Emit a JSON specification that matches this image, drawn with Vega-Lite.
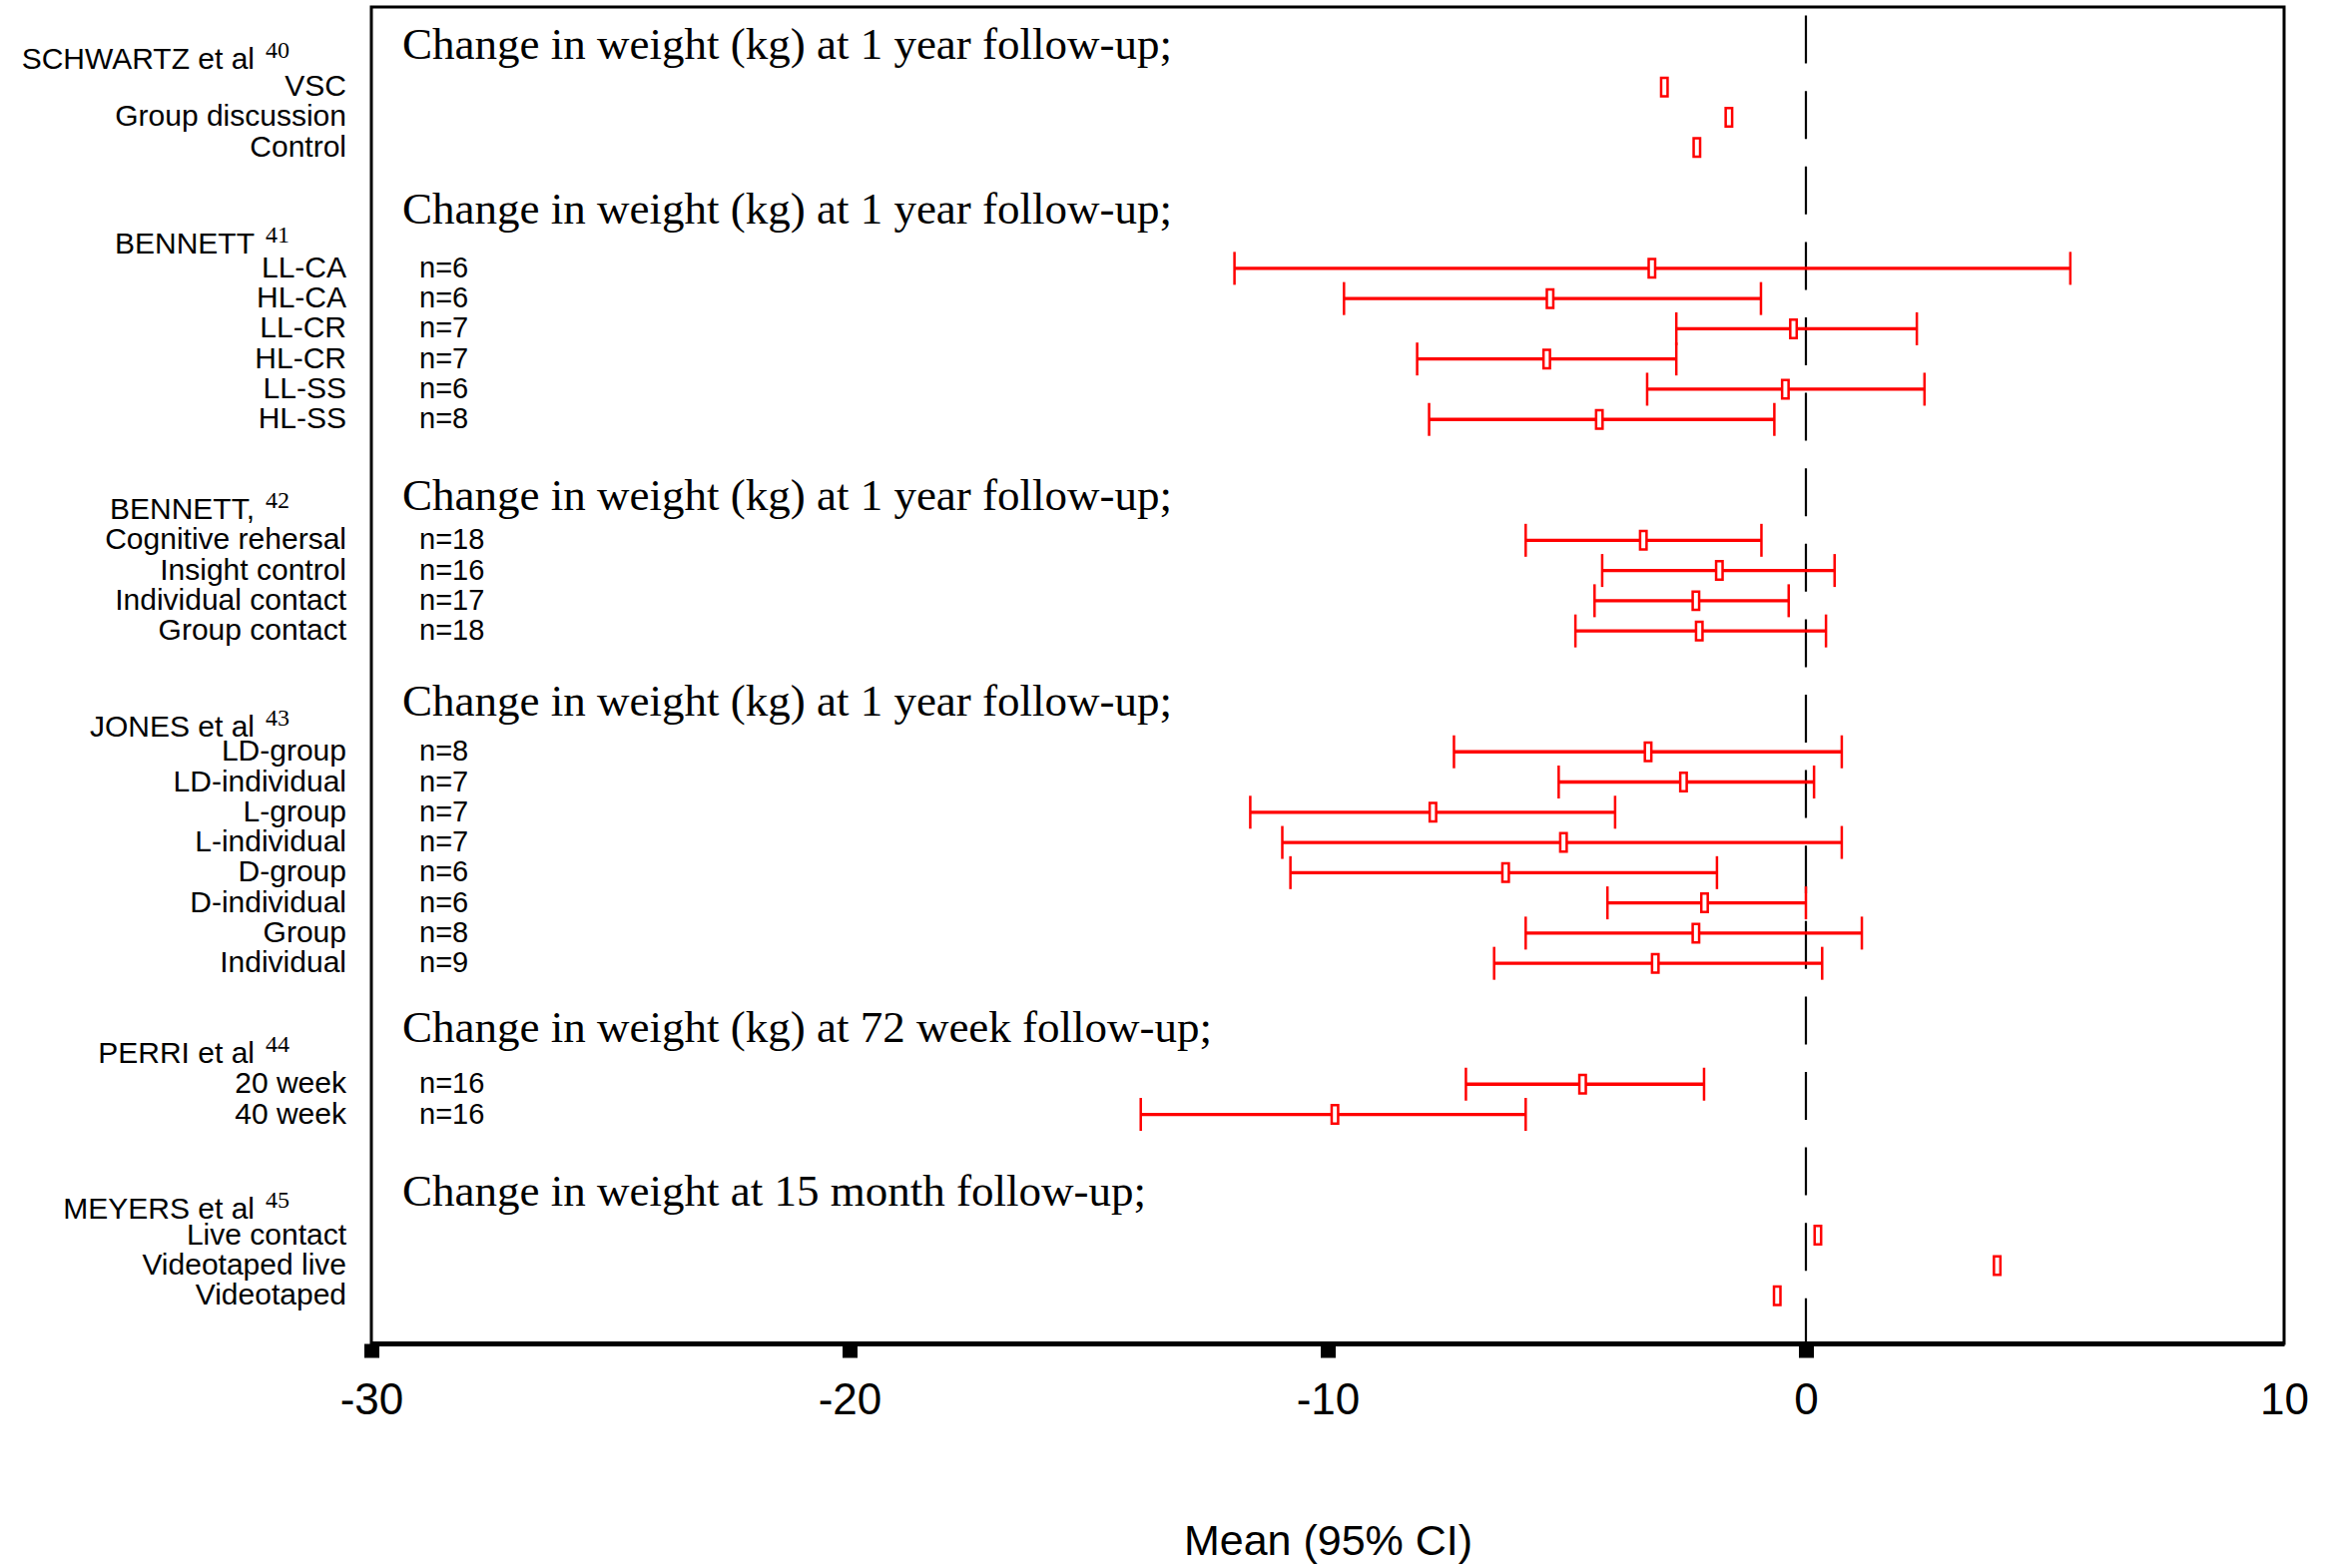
{
  "$schema": "https://vega.github.io/schema/vega-lite/v6.json",
  "width": 1916,
  "height": 1339,
  "autosize": {"type": "none"},
  "padding": {"left": 372, "top": 7, "right": 46, "bottom": 225},
  "background": "white",
  "config": {"view": {"stroke": "black", "strokeWidth": 3}, "font": "Liberation Sans"},
  "datasets": {
    "arms": [
      {"study": "SCHWARTZ", "label": "VSC", "row": 0, "n": "", "mean": -2.96, "lo": null, "hi": null},
      {"study": "SCHWARTZ", "label": "Group discussion", "row": 1, "n": "", "mean": -1.61, "lo": null, "hi": null},
      {"study": "SCHWARTZ", "label": "Control", "row": 2, "n": "", "mean": -2.28, "lo": null, "hi": null},
      {"study": "BENNETT41", "label": "LL-CA", "row": 6, "n": "n=6", "mean": -3.22, "lo": -11.95, "hi": 5.53},
      {"study": "BENNETT41", "label": "HL-CA", "row": 7, "n": "n=6", "mean": -5.35, "lo": -9.66, "hi": -0.94},
      {"study": "BENNETT41", "label": "LL-CR", "row": 8, "n": "n=7", "mean": -0.26, "lo": -2.71, "hi": 2.32},
      {"study": "BENNETT41", "label": "HL-CR", "row": 9, "n": "n=7", "mean": -5.42, "lo": -8.13, "hi": -2.71},
      {"study": "BENNETT41", "label": "LL-SS", "row": 10, "n": "n=6", "mean": -0.43, "lo": -3.32, "hi": 2.48},
      {"study": "BENNETT41", "label": "HL-SS", "row": 11, "n": "n=8", "mean": -4.32, "lo": -7.88, "hi": -0.66},
      {"study": "BENNETT42", "label": "Cognitive rehersal", "row": 15, "n": "n=18", "mean": -3.40, "lo": -5.86, "hi": -0.93},
      {"study": "BENNETT42", "label": "Insight control", "row": 16, "n": "n=16", "mean": -1.81, "lo": -4.26, "hi": 0.60},
      {"study": "BENNETT42", "label": "Individual contact", "row": 17, "n": "n=17", "mean": -2.30, "lo": -4.42, "hi": -0.36},
      {"study": "BENNETT42", "label": "Group contact", "row": 18, "n": "n=18", "mean": -2.23, "lo": -4.82, "hi": 0.42},
      {"study": "JONES", "label": "LD-group", "row": 22, "n": "n=8", "mean": -3.30, "lo": -7.36, "hi": 0.75},
      {"study": "JONES", "label": "LD-individual", "row": 23, "n": "n=7", "mean": -2.56, "lo": -5.17, "hi": 0.17},
      {"study": "JONES", "label": "L-group", "row": 24, "n": "n=7", "mean": -7.80, "lo": -11.62, "hi": -3.99},
      {"study": "JONES", "label": "L-individual", "row": 25, "n": "n=7", "mean": -5.07, "lo": -10.95, "hi": 0.75},
      {"study": "JONES", "label": "D-group", "row": 26, "n": "n=6", "mean": -6.28, "lo": -10.78, "hi": -1.86},
      {"study": "JONES", "label": "D-individual", "row": 27, "n": "n=6", "mean": -2.12, "lo": -4.15, "hi": 0.0},
      {"study": "JONES", "label": "Group", "row": 28, "n": "n=8", "mean": -2.30, "lo": -5.86, "hi": 1.17},
      {"study": "JONES", "label": "Individual", "row": 29, "n": "n=9", "mean": -3.15, "lo": -6.52, "hi": 0.34},
      {"study": "PERRI", "label": "20 week", "row": 33, "n": "n=16", "mean": -4.67, "lo": -7.11, "hi": -2.13},
      {"study": "PERRI", "label": "40 week", "row": 34, "n": "n=16", "mean": -9.85, "lo": -13.91, "hi": -5.86},
      {"study": "MEYERS", "label": "Live contact", "row": 38, "n": "", "mean": 0.25, "lo": null, "hi": null},
      {"study": "MEYERS", "label": "Videotaped live", "row": 39, "n": "", "mean": 4.0, "lo": null, "hi": null},
      {"study": "MEYERS", "label": "Videotaped", "row": 40, "n": "", "mean": -0.60, "lo": null, "hi": null}
    ],
    "studies": [
      {"name": "SCHWARTZ et al", "sup": "40", "row": -0.9, "header": "Change in weight (kg) at 1 year follow-up;", "hrow": -1.38},
      {"name": "BENNETT", "sup": "41", "row": 5.2, "header": "Change in weight (kg) at 1 year follow-up;", "hrow": 4.05},
      {"name": "BENNETT,", "sup": "42", "row": 14.0, "header": "Change in weight (kg) at 1 year follow-up;", "hrow": 13.55},
      {"name": "JONES et al", "sup": "43", "row": 21.2, "header": "Change in weight (kg) at 1 year follow-up;", "hrow": 20.35},
      {"name": "PERRI et al", "sup": "44", "row": 32.0, "header": "Change in weight (kg) at 72 week follow-up;", "hrow": 31.15},
      {"name": "MEYERS et al", "sup": "45", "row": 37.15, "header": "Change in weight at 15 month follow-up;", "hrow": 36.55}
    ]
  },
  "layer": [
    {
      "data": {"values": [{"zero": 0}]},
      "mark": {"type": "rule", "color": "black", "strokeWidth": 2.2, "strokeDash": [48, 27.6], "strokeDashOffset": 67},
      "encoding": {
        "x": {
          "field": "zero", "type": "quantitative", "title": "Mean (95% CI)",
          "scale": {"domain": [-30, 10], "nice": false, "zero": false},
          "axis": {
            "values": [-30, -20, -10, 0, 10],
            "labelExpr": "'' + datum.value",
            "grid": false,
            "domainColor": "black",
            "domainWidth": 5,
            "tickColor": "black",
            "tickWidth": 15,
            "tickSize": 14,
            "tickOpacity": {"condition": {"test": "datum.value == 10", "value": 0}, "value": 1},
            "labelFont": "Liberation Sans",
            "labelFontSize": 44,
            "labelColor": "black",
            "labelPadding": 21,
            "labelFlush": false,
            "labelOverlap": false,
            "titleFont": "Liberation Sans",
            "titleFontSize": 43,
            "titleFontWeight": "normal",
            "titleColor": "black",
            "titlePadding": 98
          }
        }
      }
    },
    {
      "data": {"name": "arms"},
      "transform": [{"filter": "isValid(datum.lo)"}],
      "mark": {"type": "rule", "color": "#ff0000", "strokeWidth": 3.3, "opacity": 1},
      "encoding": {
        "x": {"field": "lo", "type": "quantitative", "title": "Mean (95% CI)", "scale": {"domain": [-30, 10], "nice": false, "zero": false}},
        "x2": {"field": "hi"},
        "y": {"field": "row", "type": "quantitative", "scale": {"domain": [-2.65, 41.58], "reverse": true, "nice": false, "zero": false}, "axis": null}
      }
    },
    {
      "data": {"name": "arms"},
      "transform": [{"filter": "isValid(datum.lo)"}],
      "mark": {"type": "tick", "orient": "vertical", "size": 33, "thickness": 2.5, "color": "#ff0000", "opacity": 1},
      "encoding": {
        "x": {"field": "lo", "type": "quantitative", "title": "Mean (95% CI)", "scale": {"domain": [-30, 10], "nice": false, "zero": false}},
        "y": {"field": "row", "type": "quantitative", "scale": {"domain": [-2.65, 41.58], "reverse": true, "nice": false, "zero": false}, "axis": null}
      }
    },
    {
      "data": {"name": "arms"},
      "transform": [{"filter": "isValid(datum.hi)"}],
      "mark": {"type": "tick", "orient": "vertical", "size": 33, "thickness": 2.5, "color": "#ff0000", "opacity": 1},
      "encoding": {
        "x": {"field": "hi", "type": "quantitative", "title": "Mean (95% CI)", "scale": {"domain": [-30, 10], "nice": false, "zero": false}},
        "y": {"field": "row", "type": "quantitative", "scale": {"domain": [-2.65, 41.58], "reverse": true, "nice": false, "zero": false}, "axis": null}
      }
    },
    {
      "data": {"name": "arms"},
      "mark": {"type": "point", "shape": "M-0.35,-1H0.35V1H-0.35Z", "size": 342, "filled": true, "fill": "white", "stroke": "#ff0000", "strokeWidth": 2.5, "opacity": 1},
      "encoding": {
        "x": {"field": "mean", "type": "quantitative", "title": "Mean (95% CI)", "scale": {"domain": [-30, 10], "nice": false, "zero": false}},
        "y": {"field": "row", "type": "quantitative", "scale": {"domain": [-2.65, 41.58], "reverse": true, "nice": false, "zero": false}, "axis": null}
      }
    },
    {
      "data": {"name": "arms"},
      "mark": {"type": "text", "align": "right", "baseline": "middle", "dx": -25, "font": "Liberation Sans", "fontSize": 30, "color": "black"},
      "encoding": {
        "x": {"datum": -30, "type": "quantitative", "title": "Mean (95% CI)", "scale": {"domain": [-30, 10], "nice": false, "zero": false}},
        "y": {"field": "row", "type": "quantitative", "scale": {"domain": [-2.65, 41.58], "reverse": true, "nice": false, "zero": false}, "axis": null},
        "text": {"field": "label"}
      }
    },
    {
      "data": {"name": "arms"},
      "mark": {"type": "text", "align": "left", "baseline": "middle", "dx": 48, "font": "Liberation Sans", "fontSize": 29, "color": "black"},
      "encoding": {
        "x": {"datum": -30, "type": "quantitative", "title": "Mean (95% CI)", "scale": {"domain": [-30, 10], "nice": false, "zero": false}},
        "y": {"field": "row", "type": "quantitative", "scale": {"domain": [-2.65, 41.58], "reverse": true, "nice": false, "zero": false}, "axis": null},
        "text": {"field": "n"}
      }
    },
    {
      "data": {"name": "studies"},
      "mark": {"type": "text", "align": "right", "baseline": "middle", "dx": -117, "font": "Liberation Sans", "fontSize": 30, "color": "black"},
      "encoding": {
        "x": {"datum": -30, "type": "quantitative", "title": "Mean (95% CI)", "scale": {"domain": [-30, 10], "nice": false, "zero": false}},
        "y": {"field": "row", "type": "quantitative", "scale": {"domain": [-2.65, 41.58], "reverse": true, "nice": false, "zero": false}, "axis": null},
        "text": {"field": "name"}
      }
    },
    {
      "data": {"name": "studies"},
      "mark": {"type": "text", "align": "left", "baseline": "middle", "dx": -106, "dy": -9, "font": "Liberation Serif", "fontSize": 24, "color": "black"},
      "encoding": {
        "x": {"datum": -30, "type": "quantitative", "title": "Mean (95% CI)", "scale": {"domain": [-30, 10], "nice": false, "zero": false}},
        "y": {"field": "row", "type": "quantitative", "scale": {"domain": [-2.65, 41.58], "reverse": true, "nice": false, "zero": false}, "axis": null},
        "text": {"field": "sup"}
      }
    },
    {
      "data": {"name": "studies"},
      "mark": {"type": "text", "align": "left", "baseline": "middle", "dx": 31, "font": "Liberation Serif", "fontSize": 45, "color": "black"},
      "encoding": {
        "x": {"datum": -30, "type": "quantitative", "title": "Mean (95% CI)", "scale": {"domain": [-30, 10], "nice": false, "zero": false}},
        "y": {"field": "hrow", "type": "quantitative", "scale": {"domain": [-2.65, 41.58], "reverse": true, "nice": false, "zero": false}, "axis": null},
        "text": {"field": "header"}
      }
    }
  ]
}
